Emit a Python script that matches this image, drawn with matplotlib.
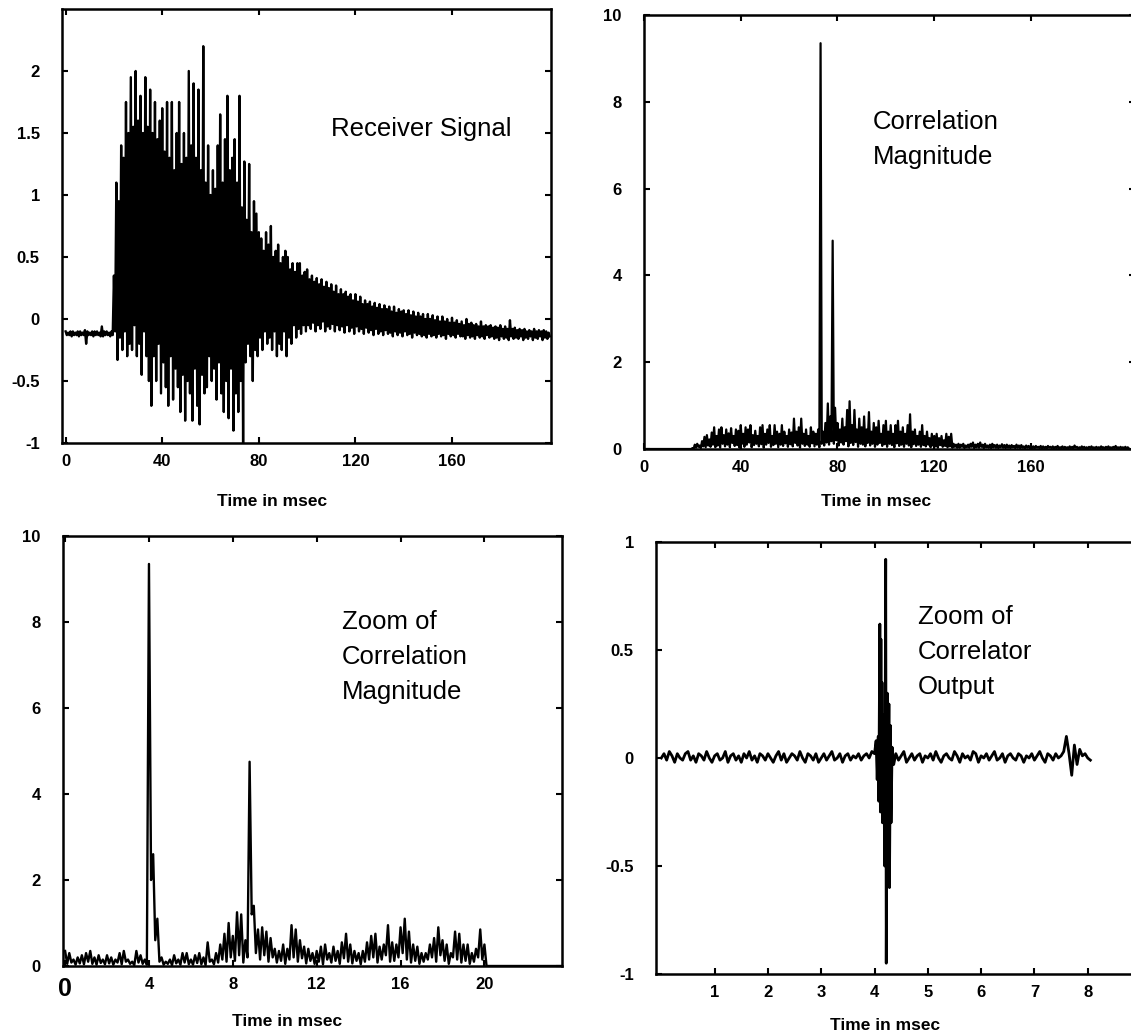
import numpy as np
import matplotlib
matplotlib.use("Agg")
import matplotlib.pyplot as plt

plt.rcParams['font.family'] = ['Liberation Sans', 'DejaVu Sans']

# ---- data ----
# receiver signal, peaks (hi) and troughs (lo) for each msec, 0..200
rx_hi = [-0.10,-0.11,-0.10,-0.10,-0.11,-0.10,-0.10,-0.11,-0.09,-0.10,
         -0.11,-0.10,-0.10,-0.10,-0.11,-0.06,-0.10,-0.10,-0.11,-0.10,
         0.35,1.10,0.95,1.40,1.30,1.75,1.50,1.95,1.55,2.00,
         1.60,1.80,1.50,1.95,1.55,1.85,1.50,1.75,1.45,1.60,
         1.70,1.35,1.75,1.30,1.75,1.20,1.50,1.75,1.25,1.50,
         1.30,2.00,1.40,1.90,1.30,1.85,1.20,2.20,1.10,1.40,
         1.00,1.20,1.05,1.40,1.65,1.10,1.45,1.80,1.20,1.30,
         1.45,1.10,1.80,0.90,1.27,0.80,1.25,0.70,0.95,0.85,
         0.70,0.65,0.55,0.70,0.60,0.75,0.50,0.55,0.60,0.45,
         0.50,0.55,0.50,0.40,0.45,0.38,0.45,0.45,0.35,0.38,
         0.40,0.32,0.35,0.30,0.33,0.28,0.32,0.26,0.30,0.25,
         0.28,0.22,0.27,0.20,0.24,0.20,0.22,0.18,0.20,0.15,
         0.20,0.14,0.18,0.12,0.15,0.12,0.14,0.10,0.13,0.09,
         0.12,0.08,0.11,0.08,0.10,0.06,0.10,0.05,0.08,0.06,
         0.07,0.04,0.07,0.03,0.06,0.02,0.05,0.02,0.04,0.00,
         0.04,0.00,0.03,-0.01,0.02,-0.02,0.02,-0.02,0.00,-0.03,
         0.01,-0.03,-0.01,-0.04,-0.02,-0.05,0.00,-0.04,-0.03,-0.05,
         -0.04,-0.06,-0.02,-0.06,-0.05,-0.06,-0.05,-0.07,-0.06,-0.07,
         -0.05,-0.08,-0.06,-0.08,-0.01,-0.08,-0.07,-0.09,-0.08,-0.09,
         -0.08,-0.10,-0.09,-0.10,-0.08,-0.10,-0.09,-0.10,-0.09,-0.10,-0.11]
rx_lo = [-0.13,-0.13,-0.14,-0.13,-0.13,-0.14,-0.13,-0.13,-0.20,-0.13,
         -0.13,-0.14,-0.13,-0.13,-0.14,-0.14,-0.13,-0.13,-0.14,-0.13,
         -0.10,-0.33,-0.15,-0.25,-0.10,-0.30,-0.20,-0.25,-0.05,-0.30,
         -0.20,-0.45,-0.10,-0.30,-0.50,-0.70,-0.30,-0.50,-0.20,-0.60,
         -0.35,-0.55,-0.70,-0.30,-0.65,-0.40,-0.55,-0.75,-0.45,-0.82,
         -0.50,-0.60,-0.82,-0.40,-0.70,-0.85,-0.45,-0.60,-0.55,-0.30,
         -0.50,-0.40,-0.65,-0.35,-0.60,-0.75,-0.50,-0.80,-0.40,-0.90,
         -0.60,-0.75,-0.50,-1.00,-0.35,-0.20,-0.30,-0.50,-0.25,-0.30,
         -0.15,-0.25,-0.10,-0.20,-0.15,-0.25,-0.10,-0.30,-0.20,-0.25,
         -0.10,-0.30,-0.15,-0.20,-0.05,-0.15,-0.08,-0.12,-0.05,-0.10,
         -0.05,-0.08,-0.03,-0.10,-0.05,-0.08,-0.02,-0.10,-0.06,-0.08,
         -0.04,-0.10,-0.05,-0.09,-0.06,-0.11,-0.05,-0.10,-0.07,-0.12,
         -0.06,-0.10,-0.08,-0.12,-0.07,-0.11,-0.09,-0.13,-0.08,-0.12,
         -0.10,-0.13,-0.09,-0.12,-0.11,-0.14,-0.10,-0.13,-0.11,-0.14,
         -0.10,-0.13,-0.12,-0.15,-0.11,-0.13,-0.12,-0.14,-0.13,-0.15,
         -0.12,-0.14,-0.13,-0.15,-0.12,-0.14,-0.13,-0.16,-0.12,-0.14,
         -0.13,-0.15,-0.12,-0.14,-0.14,-0.16,-0.13,-0.15,-0.14,-0.16,
         -0.13,-0.15,-0.14,-0.16,-0.13,-0.15,-0.14,-0.16,-0.15,-0.17,
         -0.14,-0.16,-0.15,-0.17,-0.14,-0.16,-0.15,-0.16,-0.14,-0.17,
         -0.15,-0.16,-0.14,-0.17,-0.15,-0.16,-0.14,-0.17,-0.15,-0.16,-0.14]

# correlation magnitude, peaks and floors per msec, 0..200
cm_hi = [0]*20 + [
         0.02,0.10,0.12,0.08,0.18,0.28,0.32,0.22,0.38,0.50,
         0.30,0.45,0.50,0.32,0.45,0.36,0.48,0.30,0.45,0.42,
         0.55,0.35,0.50,0.45,0.55,0.32,0.42,0.30,0.50,0.55,
         0.35,0.45,0.55,0.30,0.55,0.40,0.35,0.55,0.40,0.30,
         0.45,0.38,0.70,0.40,0.50,0.70,0.35,0.45,0.30,0.50,
         0.40,0.35,0.45,9.35,0.40,0.60,1.05,0.75,4.80,0.95,
         0.60,0.45,0.70,0.50,0.90,1.10,0.55,0.90,0.45,0.70,
         0.50,0.75,0.45,0.85,0.40,0.60,0.50,0.65,0.35,0.55,
         0.65,0.40,0.55,0.35,0.55,0.65,0.40,0.50,0.35,0.55,
         0.80,0.40,0.45,0.30,0.40,0.55,0.30,0.40,0.25,0.35,
         0.30,0.35,0.25,0.30,0.20,0.35,0.28,0.35,0.12,0.10,
         0.12,0.10,0.12,0.08,0.10,0.12,0.15,0.10,0.12,0.15,
         0.10,0.12,0.08,0.10,0.12,0.09,0.10,0.08,0.11,0.09,
         0.10,0.08,0.09,0.07,0.10,0.08,0.09,0.06,0.08,0.07,
         0.08,0.06,0.07,0.05,0.07,0.06,0.05,0.07,0.05,0.06,
         0.05,0.07,0.04,0.06,0.05,0.04,0.06,0.05,0.08,0.05,
         0.04,0.06,0.05,0.04,0.05,0.06,0.04,0.05,0.04,0.06,
         0.04,0.05,0.06,0.04,0.05,0.07,0.04,0.05,0.04,0.05,0.04]
cm_lo = [0]*20 + [
         0.00,0.03,0.05,0.02,0.06,0.04,0.08,0.05,0.10,0.04,
         0.08,0.03,0.12,0.06,0.10,0.04,0.14,0.07,0.09,0.03,
         0.12,0.05,0.10,0.15,0.04,0.09,0.12,0.06,0.11,0.03,
         0.10,0.14,0.05,0.09,0.12,0.04,0.10,0.07,0.13,0.05,
         0.11,0.06,0.14,0.08,0.03,0.12,0.07,0.10,0.05,0.13,
         0.06,0.10,0.04,0.12,0.08,0.15,0.10,0.18,0.12,0.20,
         0.08,0.15,0.10,0.18,0.06,0.14,0.09,0.16,0.05,0.12,
         0.10,0.06,0.14,0.08,0.12,0.05,0.10,0.14,0.07,0.11,
         0.05,0.12,0.09,0.04,0.13,0.07,0.10,0.05,0.12,0.08,
         0.04,0.11,0.07,0.10,0.05,0.09,0.06,0.10,0.04,0.08,
         0.06,0.03,0.09,0.05,0.07,0.04,0.06,0.03,0.05,0.03,
         0.03,0.05,0.02,0.04,0.03,0.05,0.02,0.04,0.03,0.05,
         0.02,0.04,0.03,0.02,0.04,0.03,0.02,0.04,0.03,0.02,
         0.03,0.02,0.04,0.02,0.03,0.02,0.03,0.01,0.03,0.02,
         0.02,0.01,0.03,0.02,0.01,0.02,0.01,0.03,0.02,0.01,
         0.02,0.01,0.02,0.01,0.02,0.01,0.02,0.01,0.03,0.01,
         0.01,0.02,0.01,0.01,0.02,0.01,0.01,0.02,0.01,0.02,
         0.01,0.02,0.01,0.01,0.02,0.01,0.01,0.02,0.01,0.01,0.01]

# zoom of correlation magnitude, every 0.2 msec, 0..20
zm_hi = [0.35,0.30,0.15,0.20,0.25,0.30,0.35,0.20,0.25,0.15,
         0.25,0.20,0.15,0.30,0.35,0.15,0.10,0.35,0.25,0.15,
         9.35,2.60,1.10,0.20,0.10,0.15,0.25,0.15,0.30,0.30,
         0.15,0.25,0.30,0.20,0.55,0.15,0.30,0.50,0.75,1.00,
         0.70,1.25,1.20,0.60,4.75,1.40,0.85,0.90,0.80,0.65,
         0.40,0.35,0.50,0.40,0.95,0.85,0.60,0.45,0.40,0.30,
         0.35,0.45,0.50,0.30,0.45,0.35,0.55,0.75,0.50,0.35,
         0.30,0.35,0.55,0.70,0.75,0.45,0.50,0.95,0.55,0.50,
         0.90,1.10,0.80,0.50,0.45,0.30,0.30,0.50,0.65,0.90,
         0.60,0.50,0.30,0.80,0.75,0.50,0.50,0.30,0.40,0.85,0.50]
zm_lo = [0.05,0.08,0.03,0.06,0.04,0.10,0.05,0.03,0.07,0.04,
         0.06,0.03,0.08,0.04,0.10,0.05,0.02,0.08,0.05,0.03,
         2.00,0.60,0.10,0.03,0.05,0.02,0.06,0.03,0.08,0.04,
         0.03,0.07,0.04,0.02,0.10,0.04,0.08,0.15,0.10,0.20,
         0.12,0.25,0.08,0.20,1.20,0.30,0.15,0.25,0.10,0.20,
         0.08,0.12,0.05,0.15,0.20,0.10,0.18,0.06,0.12,0.05,
         0.10,0.04,0.15,0.08,0.12,0.05,0.18,0.10,0.06,0.12,
         0.04,0.10,0.15,0.20,0.08,0.15,0.25,0.10,0.12,0.20,
         0.30,0.15,0.08,0.12,0.05,0.10,0.15,0.20,0.10,0.25,
         0.12,0.05,0.20,0.15,0.08,0.12,0.05,0.10,0.20,0.15,0.00]

# zoom of correlator output: noise before, the burst, noise after (0.05 msec steps)
co_pre = [0.00,0.02,-0.01,0.03,0.01,-0.02,0.02,0.00,-0.01,0.02,
          0.03,-0.01,0.01,-0.02,0.02,0.01,-0.01,0.03,0.00,-0.02,
          0.01,0.02,-0.01,0.00,0.03,-0.02,0.01,0.02,-0.01,0.01,
          -0.02,0.02,0.00,0.03,-0.01,0.01,-0.02,0.02,0.01,-0.01,
          0.02,0.00,-0.02,0.01,0.03,-0.01,0.02,-0.02,0.00,0.02,
          0.01,-0.01,0.03,0.00,-0.02,0.02,0.01,-0.01,0.02,-0.02,
          0.00,0.02,-0.01,0.01,0.03,-0.01,0.00,0.02,-0.02,0.01,
          0.02,-0.01,0.01,0.00,0.02,-0.01,0.01,0.02,0.00,0.03]
burst_t = [4.00,4.03,4.05,4.07,4.08,4.10,4.11,4.12,4.13,4.14,4.15,4.17,
           4.19,4.21,4.22,4.24,4.25,4.27,4.28,4.30,4.31,4.33,4.36]
burst_v = [0.02,0.08,-0.10,0.10,-0.20,0.62,-0.25,0.55,-0.20,0.35,-0.30,0.20,
           -0.50,0.92,-0.95,0.30,-0.55,0.25,-0.60,0.15,-0.30,0.05,-0.03]
co_post = [0.02,-0.01,0.01,0.03,-0.02,0.00,0.02,-0.01,0.01,0.02,
           -0.02,0.01,0.00,0.02,-0.01,0.03,0.00,-0.02,0.01,0.02,
           0.00,-0.01,0.03,0.01,-0.02,0.02,0.00,0.01,-0.01,0.03,
           0.02,-0.02,0.01,0.00,0.02,-0.01,0.01,0.03,-0.01,0.00,
           0.02,-0.02,0.01,0.02,0.00,-0.01,0.02,0.01,-0.02,0.01,
           0.00,0.02,-0.01,0.01,0.03,0.00,-0.02,0.02,0.01,-0.01,
           0.02,0.00,0.01,0.03,0.10,0.02,-0.08,0.06,-0.03,0.04,
           0.01,0.02,0.00,-0.01]

W, H = 1131, 1036
fig = plt.figure(figsize=(W / 100, H / 100), dpi=100)


def box(l, t, r, b):
    return fig.add_axes([l / W, 1 - b / H, (r - l) / W, (b - t) / H])


def zigzag(t0, step, hi, lo):
    n = len(hi)
    t = t0 + step * np.arange(n)
    x = np.empty(2 * n)
    y = np.empty(2 * n)
    x[0::2] = t
    x[1::2] = t + step / 2
    y[0::2] = hi
    y[1::2] = lo
    return x, y


def style(ax, xt, yt, ylab):
    ax.set_xticks(xt)
    ax.set_xticklabels([str(v) for v in xt])
    ax.set_yticks(yt)
    ax.set_yticklabels(ylab)
    ax.tick_params(direction='in', top=True, right=True, length=4.5, width=1.5,
                   labelsize=12)
    ax.tick_params(axis='x', pad=8)
    ax.tick_params(axis='y', pad=16)
    for lab in ax.get_xticklabels() + ax.get_yticklabels():
        lab.set_fontweight('bold')
    for s in ax.spines.values():
        s.set_linewidth(1.8)


def note(x, y, lines, step=35):
    for i, s in enumerate(lines):
        fig.text(x / W, 1 - (y + i * step) / H, s, fontsize=18.5,
                 ha='left', va='baseline')


def xlabel(x, y):
    fig.text(x / W, 1 - y / H, 'Time in msec', fontsize=12.5,
             fontweight='bold', ha='center', va='center')


# receiver signal
ax1 = box(62, 9, 551, 443)
x, y = zigzag(0, 1.0, rx_hi, rx_lo)
ax1.plot(x, y, color='black', lw=1.7)
ax1.set_xlim(-1.5, 201)
ax1.set_ylim(-1, 2.5)
style(ax1, [0, 40, 80, 120, 160], [-1, -0.5, 0, 0.5, 1, 1.5, 2],
      ['-1', '-0.5', '0', '0.5', '1', '1.5', '2'])
note(331, 136, ['Receiver Signal'])
xlabel(272, 501)

# correlation magnitude
ax2 = box(644, 15, 1135, 449)
x, y = zigzag(0, 1.0, cm_hi, cm_lo)
ax2.plot(x, y, color='black', lw=1.6)
ax2.set_xlim(0, 203)
ax2.set_ylim(0, 10)
style(ax2, [0, 40, 80, 120, 160], [0, 2, 4, 6, 8, 10],
      ['0', '2', '4', '6', '8', '10'])
note(873, 129, ['Correlation', 'Magnitude'])
xlabel(876, 502)

# zoom of correlation magnitude
ax3 = box(63, 536, 562, 966)
x, y = zigzag(0, 0.2, zm_hi, zm_lo)
ax3.plot(x, y, color='black', lw=1.7)
ax3.plot([x[-1], 24], [0, 0], color='black', lw=1.7)
ax3.set_xlim(-0.1, 23.7)
ax3.set_ylim(0, 10)
style(ax3, [0, 4, 8, 12, 16, 20], [0, 2, 4, 6, 8, 10],
      ['0', '2', '4', '6', '8', '10'])
ax3.get_xticklabels()[0].set_fontsize(18)
note(342, 629, ['Zoom of', 'Correlation', 'Magnitude'])
xlabel(287, 1022)

# zoom of correlator output
ax4 = box(656, 542, 1157, 974)
t_pre = 0.05 * np.arange(len(co_pre))
t_post = 4.40 + 0.05 * np.arange(len(co_post))
ax4.plot(np.concatenate([t_pre, burst_t, t_post]),
         np.concatenate([co_pre, burst_v, co_post]), color='black', lw=2.0)
ax4.set_xlim(-0.1, 9.3)
ax4.set_ylim(-1, 1)
style(ax4, [1, 2, 3, 4, 5, 6, 7, 8], [-1, -0.5, 0, 0.5, 1],
      ['-1', '-0.5', '0', '0.5', '1'])
note(918, 624, ['Zoom of', 'Correlator', 'Output'])
xlabel(885, 1026)

fig.savefig('out.png', dpi=100)
